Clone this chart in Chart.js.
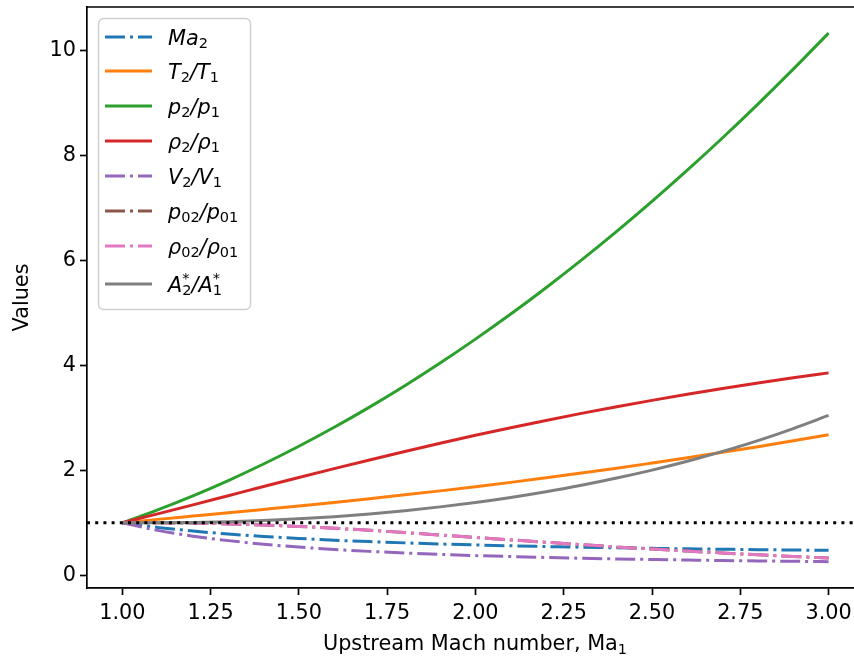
<!DOCTYPE html>
<html>
<head>
<meta charset="utf-8">
<script src="https://cdn.jsdelivr.net/npm/chart.js@4"></script>
<style>
  html, body { margin:0; padding:0; background:#fff; overflow:hidden; }
  #wrap { width:854px; height:661px; position:relative; }
</style>
</head>
<body>
<div id="wrap"><canvas id="c" width="854" height="661"></canvas></div>
<script>
// Normal shock relations (gamma = 1.4 curves)
const machNumbers = [1.0,1.1,1.2,1.3,1.4,1.5,1.6,1.7,1.8,1.9,2.0,2.1,2.2,2.3,2.4,2.5,2.6,2.7,2.8,2.9,3.0];
const ma2       = [1.000,0.912,0.842,0.786,0.740,0.701,0.668,0.641,0.617,0.596,0.577,0.561,0.547,0.534,0.523,0.513,0.504,0.496,0.488,0.481,0.475];
const t2t1      = [1.000,1.065,1.128,1.191,1.255,1.320,1.388,1.458,1.532,1.608,1.688,1.770,1.857,1.947,2.040,2.138,2.238,2.343,2.451,2.563,2.679];
const p2p1      = [1.000,1.245,1.513,1.805,2.120,2.458,2.820,3.205,3.613,4.045,4.500,4.978,5.480,6.005,6.553,7.125,7.720,8.338,8.980,9.645,10.333];
const rho2rho1  = [1.000,1.169,1.342,1.516,1.690,1.862,2.032,2.198,2.359,2.516,2.667,2.812,2.951,3.085,3.212,3.333,3.449,3.559,3.664,3.763,3.857];
const v2v1      = [1.000,0.855,0.745,0.660,0.592,0.537,0.492,0.455,0.424,0.398,0.375,0.356,0.339,0.324,0.311,0.300,0.290,0.281,0.273,0.266,0.259];
const p02p01    = [1.000,0.999,0.993,0.979,0.958,0.930,0.895,0.856,0.813,0.767,0.721,0.674,0.628,0.583,0.540,0.499,0.460,0.424,0.390,0.358,0.328];
const rho02rho01= [1.000,0.999,0.993,0.979,0.958,0.930,0.895,0.856,0.813,0.767,0.721,0.674,0.628,0.583,0.540,0.499,0.460,0.424,0.390,0.358,0.328];
const a2a1      = [1.000,1.001,1.007,1.021,1.044,1.076,1.117,1.169,1.231,1.303,1.387,1.483,1.592,1.714,1.852,2.004,2.173,2.361,2.567,2.796,3.046];
const refLine   = [1, 1];
const refX      = [0.9, 3.1];
const xTicks = [1.00,1.25,1.50,1.75,2.00,2.25,2.50,2.75,3.00];
const yTicks = [0,2,4,6,8,10];

const series = [
  { label:'Ma2',  data:ma2,        color:'#1f77b4', dash:true,
    parts:[['Ma','i'],['2','s']] },
  { label:'T2/T1', data:t2t1,      color:'#ff7f0e', dash:false,
    parts:[['T','i'],['2','s'],['/','i'],['T','i'],['1','s']] },
  { label:'p2/p1', data:p2p1,      color:'#2ca02c', dash:false,
    parts:[['p','i'],['2','s'],['/','i'],['p','i'],['1','s']] },
  { label:'rho2/rho1', data:rho2rho1, color:'#d62728', dash:false,
    parts:[['ρ','i'],['2','s'],['/','i'],['ρ','i'],['1','s']] },
  { label:'V2/V1', data:v2v1,      color:'#9467bd', dash:true,
    parts:[['V','i'],['2','s'],['/','i'],['V','i'],['1','s']] },
  { label:'p02/p01', data:p02p01,  color:'#8c564b', dash:true,
    parts:[['p','i'],['02','s'],['/','i'],['p','i'],['01','s']] },
  { label:'rho02/rho01', data:rho02rho01, color:'#e377c2', dash:true,
    parts:[['ρ','i'],['02','s'],['/','i'],['ρ','i'],['01','s']] },
  { label:'A2*/A1*', data:a2a1,    color:'#7f7f7f', dash:false,
    parts:[['A','i'],['2|*','ss'],['/','i'],['A','i'],['1|*','ss']] }
];

const DASHDOT = [20, 5, 3, 5];
const FONT = '"DejaVu Sans", sans-serif';

const datasets = series.map((s, i) => ({
  label: s.label,
  data: machNumbers.map((x, k) => ({ x, y: s.data[k] })),
  borderColor: s.color,
  borderWidth: 3,
  borderDash: s.dash ? DASHDOT : [],
  pointRadius: 0,
  fill: false,
  cubicInterpolationMode: 'monotone',
  order: 20 - i
}));
datasets.push({
  label: 'ref',
  data: refX.map((x, k) => ({ x, y: refLine[k] })),
  borderColor: '#000',
  borderWidth: 3,
  borderDash: [3, 5.2],
  pointRadius: 0,
  fill: false,
  order: 0
});

// matplotlib-like legend + top spine + x title with subscript
const mplLegend = {
  id: 'mplLegend',
  afterDraw(chart) {
    const ctx = chart.ctx;
    const a = chart.chartArea;
    ctx.save();
    // top spine
    ctx.strokeStyle = '#000';
    ctx.lineWidth = 1.7;
    ctx.beginPath();
    ctx.moveTo(a.left - 0.85, a.top);
    ctx.lineTo(a.right, a.top);
    ctx.stroke();

    // x axis title
    ctx.fillStyle = '#000';
    ctx.textBaseline = 'alphabetic';
    const main = 'Upstream Mach number, Ma';
    ctx.font = '14.5px ' + FONT;
    const subW = ctx.measureText('1').width;
    ctx.font = '20.8px ' + FONT;
    const mainW = ctx.measureText(main).width;
    const tx = 475 - (mainW + subW) / 2;
    ctx.textAlign = 'left';
    ctx.fillText(main, tx, 650);
    ctx.font = '14.5px ' + FONT;
    ctx.fillText('1', tx + mainW, 654);

    // legend frame
    const bx = 98.5, by = 18.5, bw = 152, bh = 291, r = 5;
    ctx.beginPath();
    ctx.roundRect(bx, by, bw, bh, r);
    ctx.fillStyle = 'rgba(255,255,255,0.8)';
    ctx.fill();
    ctx.strokeStyle = '#d0d0d0';
    ctx.lineWidth = 1.5;
    ctx.stroke();

    const rows = [37, 71, 106, 141, 176, 211, 246, 284];
    series.forEach((s, i) => {
      const y = rows[i];
      ctx.strokeStyle = s.color;
      ctx.lineWidth = 3;
      ctx.setLineDash(s.dash ? DASHDOT : []);
      ctx.beginPath();
      ctx.moveTo(105, y);
      ctx.lineTo(152, y);
      ctx.stroke();
      ctx.setLineDash([]);

      let x = 168;
      const base = y + 7.5;
      ctx.fillStyle = '#000';
      ctx.textBaseline = 'alphabetic';
      ctx.textAlign = 'left';
      s.parts.forEach(([t, kind]) => {
        if (kind === 'i') {
          ctx.font = 'italic 20.8px ' + FONT;
          ctx.fillText(t, x, base);
          x += ctx.measureText(t).width;
        } else if (kind === 's') {
          ctx.font = '14.5px ' + FONT;
          ctx.fillText(t, x, base + 3.5);
          x += ctx.measureText(t).width;
        } else {
          const [sub, sup] = t.split('|');
          ctx.font = '14.5px ' + FONT;
          ctx.fillText(sub, x, base + 3.5);
          ctx.fillText(sup, x, base - 9);
          x += Math.max(ctx.measureText(sub).width, ctx.measureText(sup).width);
        }
      });
    });
    ctx.restore();
  }
};

const tickFont = { family: FONT, size: 20.8 };

new Chart(document.getElementById('c'), {
  type: 'line',
  data: { datasets },
  plugins: [mplLegend],
  options: {
    responsive: false,
    animation: false,
    layout: { padding: { top: 7, right: 0, left: 0, bottom: 0 } },
    plugins: { legend: { display: false }, tooltip: { enabled: false } },
    scales: {
      x: {
        type: 'linear',
        min: 0.9, max: 3.072,
        afterBuildTicks: s => { s.ticks = xTicks.map(v => ({ value: v })); },
        afterFit: s => { s.height = 73; s.paddingLeft = 0; s.paddingRight = 0; },
        ticks: { font: tickFont, color: '#000', padding: 6, maxRotation: 0, autoSkip: false,
          callback: v => v.toFixed(2) },
        grid: { drawOnChartArea: false, drawTicks: true, tickLength: 7, tickColor: '#000', tickWidth: 1.7 },
        border: { display: true, color: '#000', width: 1.7 },
        title: { display: false }
      },
      y: {
        type: 'linear',
        min: -0.243, max: 10.83,
        afterBuildTicks: s => { s.ticks = yTicks.map(v => ({ value: v })); },
        afterFit: s => { s.width = 87; s.paddingTop = 0; s.paddingBottom = 0; },
        ticks: { font: tickFont, color: '#000', padding: 4, autoSkip: false },
        grid: { drawOnChartArea: false, drawTicks: true, tickLength: 7, tickColor: '#000', tickWidth: 1.7 },
        border: { display: true, color: '#000', width: 1.7 },
        title: { display: true, text: 'Values', color: '#000',
          font: { family: FONT, size: 20.8 }, padding: { top: 10, bottom: 0 } }
      }
    }
  }
});
</script>
</body>
</html>
